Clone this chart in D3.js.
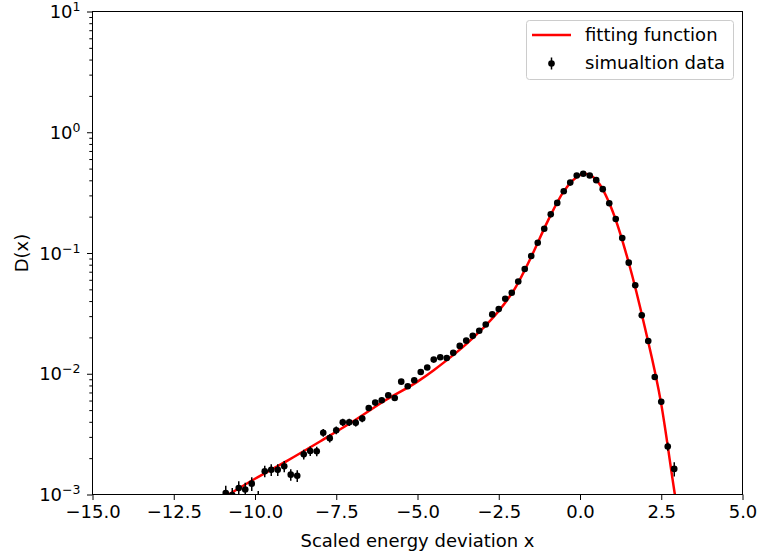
<!DOCTYPE html>
<html>
<head>
<meta charset="utf-8">
<script src="https://cdn.jsdelivr.net/npm/d3@7"></script>
<style>
  body { margin: 0; background: #fff; }
  text { font-family: "DejaVu Sans", sans-serif; }
</style>
</head>
<body>
<svg id="chart" width="758" height="557"></svg>
<script>
// simulation data (bin centres, value, error)
const simX = [-10.9, -10.7, -10.5, -10.3, -10.1, -9.9, -9.7, -9.5, -9.3, -9.1,
  -8.9, -8.7, -8.5, -8.3, -8.1, -7.9, -7.7, -7.5, -7.3, -7.1,
  -6.9, -6.7, -6.5, -6.3, -6.1, -5.9, -5.7, -5.5, -5.3, -5.1,
  -4.9, -4.7, -4.5, -4.3, -4.1, -3.9, -3.7, -3.5, -3.3, -3.1,
  -2.9, -2.7, -2.5, -2.3, -2.1, -1.9, -1.7, -1.5, -1.3, -1.1,
  -0.9, -0.7, -0.5, -0.3, -0.1, 0.1, 0.3, 0.5, 0.7, 0.9,
  1.1, 1.3, 1.5, 1.7, 1.9, 2.1, 2.3, 2.5, 2.7, 2.9];
const simD = [1.03e-3, 0.99e-3, 1.13e-3, 1.10e-3, 1.23e-3, 0.93e-3, 1.56e-3, 1.60e-3, 1.60e-3, 1.71e-3,
  1.46e-3, 1.43e-3, 2.15e-3, 2.29e-3, 2.28e-3, 3.25e-3, 2.93e-3, 3.40e-3, 3.96e-3, 3.96e-3,
  3.92e-3, 4.25e-3, 5.20e-3, 5.77e-3, 6.03e-3, 6.64e-3, 6.30e-3, 8.60e-3, 7.87e-3, 8.83e-3,
  1.035e-2, 1.125e-2, 1.31e-2, 1.37e-2, 1.35e-2, 1.49e-2, 1.70e-2, 1.88e-2, 2.06e-2, 2.27e-2,
  2.56e-2, 3.10e-2, 3.43e-2, 4.18e-2, 4.69e-2, 5.80e-2, 7.36e-2, 9.44e-2, 0.1216, 0.159,
  0.209, 0.260, 0.325, 0.383, 0.438, 0.453, 0.438, 0.401, 0.338, 0.258,
  0.191, 0.133, 0.0832, 0.0540, 0.0305, 0.0187, 0.0094, 0.00587, 0.00250, 0.00163];
const simErr = [1.5e-4, 1.4e-4, 1.6e-4, 1.5e-4, 1.6e-4, 1.4e-4, 1.7e-4, 1.8e-4, 1.8e-4, 1.8e-4,
  1.6e-4, 1.6e-4, 2.0e-4, 2.1e-4, 2.1e-4, 2.4e-4, 2.3e-4, 2.5e-4, 2.7e-4, 2.7e-4,
  2.7e-4, 2.8e-4, 2.9e-4, 3.0e-4, 3.1e-4, 3.3e-4, 3.2e-4, 3.6e-4, 3.5e-4, 3.7e-4,
  4.0e-4, 4.2e-4, 4.5e-4, 4.6e-4, 4.6e-4, 4.8e-4, 5.2e-4, 5.5e-4, 5.7e-4, 6.0e-4,
  6.4e-4, 7.0e-4, 7.4e-4, 8.2e-4, 8.7e-4, 9.7e-4, 1.1e-3, 1.2e-3, 1.4e-3, 1.6e-3,
  1.8e-3, 2.0e-3, 2.3e-3, 2.5e-3, 2.6e-3, 2.7e-3, 2.6e-3, 2.5e-3, 2.3e-3, 2.0e-3,
  1.7e-3, 1.5e-3, 1.2e-3, 9.6e-4, 7.2e-4, 5.6e-4, 4.0e-4, 3.1e-4, 2.0e-4, 2.2e-4];

// fitting function
const fitX = [-11.0, -10.0, -9.0, -8.0, -7.0, -6.0, -5.0, -4.5, -4.0, -3.5, -3.0, -2.5, -2.0,
  -1.5, -1.0, -0.5, 0.0, 0.15, 0.5, 1.0, 1.5, 2.0, 2.5, 2.9, 3.0];
const fitD = [9.3e-4, 1.35e-3, 1.91e-3, 2.75e-3, 4.0e-3, 6.0e-3, 8.6e-3, 1.07e-2, 1.36e-2, 1.76e-2, 2.36e-2, 3.31e-2, 5.1e-2,
  9.3e-2, 0.182, 0.324, 0.442, 0.453, 0.403, 0.223, 0.083, 0.0239, 0.0056, 1.08e-3, 7.2e-4];

const xTicks = [-15, -12.5, -10, -7.5, -5, -2.5, 0, 2.5, 5];
const yTicks = [1e-3, 1e-2, 1e-1, 1, 10];
const yExp = ['\u22123', '\u22122', '\u22121', '0', '1'];

const FS = 18;
const m = { top: 11.5, left: 92.5 };
const w = 650, h = 483;
const svg = d3.select('#chart');
svg.append('rect').attr('width', 758).attr('height', 557).attr('fill', '#fff');

const x = d3.scaleLinear().domain([-15, 5]).range([0, w]);
const y = d3.scaleLog().domain([1e-3, 10]).range([h, 0]);

const g = svg.append('g').attr('transform', `translate(${m.left},${m.top})`);
svg.append('defs').append('clipPath').attr('id', 'clip')
  .append('rect').attr('width', w).attr('height', h);

const plot = g.append('g').attr('clip-path', 'url(#clip)');

// fit line
const fit = fitX.map((v, i) => ({ x: v, d: fitD[i] }));
plot.append('path').datum(fit)
  .attr('fill', 'none')
  .attr('stroke', '#ff0000')
  .attr('stroke-width', 2.5)
  .attr('d', d3.line().x(d => x(d.x)).y(d => y(d.d)).curve(d3.curveMonotoneX));

// error bars + markers
const sim = simX.map((v, i) => ({ x: v, d: simD[i], e: simErr[i] }));
plot.selectAll('line.err').data(sim).join('line')
  .attr('class', 'err')
  .attr('x1', d => x(d.x)).attr('x2', d => x(d.x))
  .attr('y1', d => y(Math.max(d.d - d.e, 1e-4)))
  .attr('y2', d => y(d.d + d.e))
  .attr('stroke', '#000').attr('stroke-width', 1.5);
plot.selectAll('circle').data(sim).join('circle')
  .attr('cx', d => x(d.x)).attr('cy', d => y(d.d))
  .attr('r', 3.3).attr('fill', '#000');

// axes
const xAxis = g.append('g').attr('transform', `translate(0,${h})`)
  .call(d3.axisBottom(x).tickValues(xTicks).tickSize(5.5).tickSizeOuter(0).tickPadding(5)
    .tickFormat(d3.format('.1f')));
const minor = [];
for (let k = -3; k < 1; k++) for (let j = 2; j < 10; j++) minor.push(j * Math.pow(10, k));
g.append('g').call(d3.axisLeft(y).tickValues(minor).tickSize(3.2).tickSizeOuter(0).tickFormat(''));
const yAxis = g.append('g')
  .call(d3.axisLeft(y).tickValues(yTicks).tickSize(5.5).tickSizeOuter(0).tickFormat(''));
g.selectAll('.domain').remove();
g.selectAll('.tick line').attr('stroke', '#000').attr('stroke-width', 1);
xAxis.selectAll('text').attr('font-size', FS).attr('fill', '#000')
  .attr('font-family', '"DejaVu Sans", sans-serif');

yAxis.selectAll('.tick').each(function (d, i) {
  const t = d3.select(this).append('text')
    .attr('x', -12).attr('y', 6)
    .attr('text-anchor', 'end')
    .attr('font-size', FS).attr('fill', '#000');
  t.append('tspan').text('10');
  t.append('tspan').attr('dy', -7).attr('font-size', 12.5).text(yExp[i]);
});

// frame
g.append('rect').attr('width', w).attr('height', h)
  .attr('fill', 'none').attr('stroke', '#000').attr('stroke-width', 1);

// axis labels
svg.append('text').attr('x', m.left + w / 2).attr('y', 547)
  .attr('text-anchor', 'middle').attr('font-size', FS).text('Scaled energy deviation x');
svg.append('text').attr('transform', `translate(28,${m.top + h / 2}) rotate(-90)`)
  .attr('text-anchor', 'middle').attr('font-size', FS).text('D(x)');

// legend
const lg = svg.append('g');
lg.append('rect').attr('x', 526.5).attr('y', 20.5).attr('width', 207).attr('height', 59).attr('rx', 3)
  .attr('fill', '#fff').attr('fill-opacity', 0.8).attr('stroke', '#ccc');
lg.append('line').attr('x1', 532).attr('x2', 571).attr('y1', 35).attr('y2', 35)
  .attr('stroke', '#ff0000').attr('stroke-width', 2.5);
lg.append('text').attr('x', 585).attr('y', 41).attr('font-size', FS).text('fitting function');
lg.append('line').attr('x1', 551.5).attr('x2', 551.5).attr('y1', 57.5).attr('y2', 69.5)
  .attr('stroke', '#000').attr('stroke-width', 1.5);
lg.append('circle').attr('cx', 551.5).attr('cy', 63.5).attr('r', 3.3).attr('fill', '#000');
lg.append('text').attr('x', 585).attr('y', 69).attr('font-size', FS).text('simualtion data');
</script>
</body>
</html>
